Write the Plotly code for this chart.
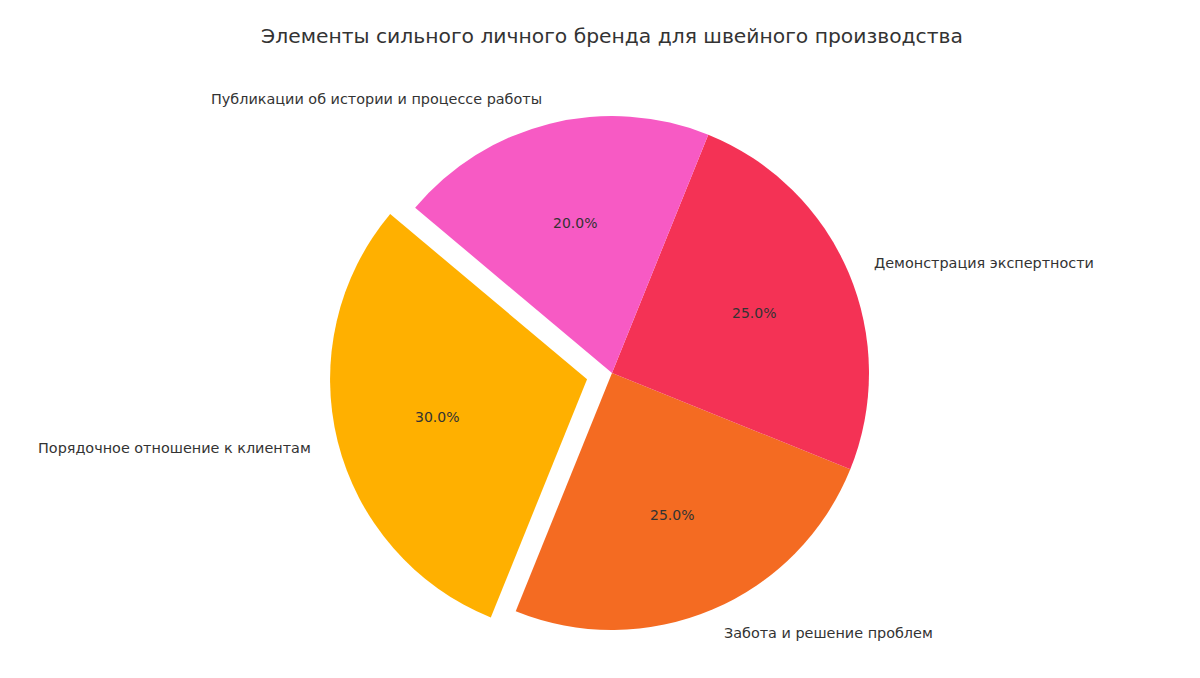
import math
import plotly.graph_objects as go

labels = ["Порядочное отношение к клиентам", "Забота и решение проблем",
          "Демонстрация экспертности", "Публикации об истории и процессе работы"]
values = [30, 25, 25, 20]
colors = ["#FFB000", "#F46B22", "#F43255", "#F75AC4"]
pulls = [0.1, 0, 0, 0]
title = "Элементы сильного личного бренда для швейного производства"

W, H = 1200, 678
CX, CY, R = 612, 373, 257
START = 140  # degrees, counterclockwise from +x
maxpull = max(pulls)
half = R * (1 + maxpull)
total = sum(values)

# plotly (counterclockwise): first slice ends at 12 o'clock, rotation is clockwise
first_end = START + 360 * values[0] / total
fig = go.Figure(go.Pie(
    labels=labels, values=values, sort=False, direction="counterclockwise",
    rotation=90 - first_end, pull=pulls, textinfo="none", hoverinfo="label+percent",
    marker=dict(colors=colors, line=dict(width=0)),
    domain=dict(x=[(CX - half) / W, (CX + half) / W],
                y=[1 - (CY + half) / H, 1 - (CY - half) / H]),
    showlegend=False,
))

ann = []
acc = START
for lab, v, p in zip(labels, values, pulls):
    span = 360 * v / total
    mid = math.radians(acc + span / 2)
    acc += span
    ox = CX + p * R * math.cos(mid)
    oy = CY - p * R * math.sin(mid)
    # percentage
    px_ = ox + 0.6 * R * math.cos(mid)
    py_ = oy - 0.6 * R * math.sin(mid)
    ann.append(dict(x=px_ / W, y=1 - py_ / H, xref="paper", yref="paper",
                    text=f"{100 * v / total:.1f}%", showarrow=False,
                    font=dict(family="DejaVu Sans", size=14, color="#333333"),
                    xanchor="center", yanchor="middle"))
    lx = ox + 1.1 * R * math.cos(mid)
    ly = oy - 1.1 * R * math.sin(mid)
    ann.append(dict(x=lx / W, y=1 - ly / H, xref="paper", yref="paper",
                    text=lab, showarrow=False,
                    font=dict(family="DejaVu Sans", size=14.4, color="#333333"),
                    xanchor="left" if math.cos(mid) > 0 else "right", yanchor="middle"))

fig.update_layout(
    width=W, height=H, margin=dict(l=0, r=0, t=0, b=0),
    paper_bgcolor="white", plot_bgcolor="white",
    title=dict(text=title, x=612 / W, xanchor="center", y=1 - 36 / H, yanchor="middle",
               font=dict(family="DejaVu Sans", size=20.3, color="#333333")),
    annotations=ann,
)
fig.write_html("out.html")
